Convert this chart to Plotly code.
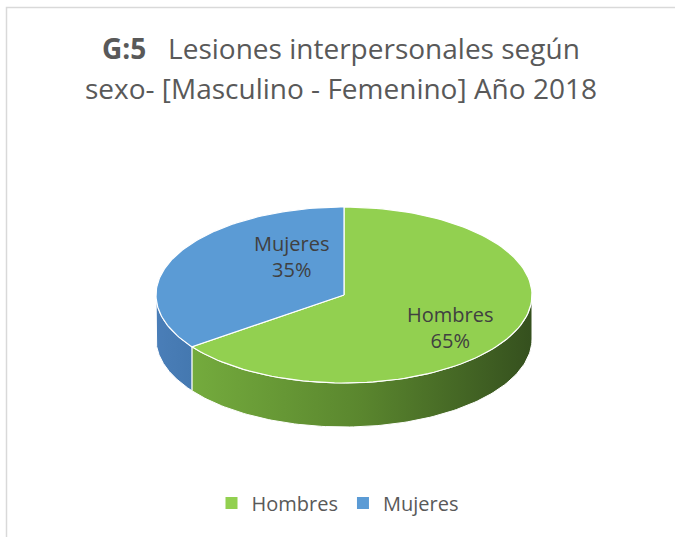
import numpy as np
import plotly.graph_objects as go

# ---- data ----
categories = ["Hombres", "Mujeres"]
values = [65, 35]
title_lines = ["<b>G:5</b>\u00a0\u00a0\u00a0Lesiones interpersonales según",
               "sexo- [Masculino - Femenino] Año 2018"]

# ---- style ----
top_colors = ["#92D050", "#5B9BD5"]
side_scales = [
    [[0, "#74AB3D"], [0.5, "#5A862E"], [1, "#35501E"]],
    [[0, "#4A7EB8"], [1, "#4478B0"]],
]
FONT = "Open Sans"
W, H = 675, 537
cx, cy, a, b, depth = 344, 295, 188, 88, 44

total = float(sum(values))
angles = np.cumsum([0] + [v / total * 360 for v in values])


def arc(t0, t1, dy=0, n=120):
    t = np.radians(np.linspace(t0, t1, n))
    return cx + a * np.sin(t), cy - b * np.cos(t) + dy


fig = go.Figure()

# side walls (front half visible: 90..270 degrees clockwise from top)
for i, cat in enumerate(categories):
    s0, s1 = max(angles[i], 90), min(angles[i + 1], 270)
    if s1 <= s0:
        continue
    xt, yt = arc(s0, s1)
    xb, yb = arc(s1, s0, depth)
    xs = np.concatenate([xt, xb, xt[:1]])
    ys = np.concatenate([yt, yb, yt[:1]])
    fig.add_trace(go.Scatter(
        x=xs, y=ys, mode="lines", fill="toself",
        line=dict(color="white", width=1),
        fillgradient=dict(type="horizontal", colorscale=side_scales[i]),
        hoverinfo="skip", showlegend=False))

# top faces
for i, cat in enumerate(categories):
    xt, yt = arc(angles[i], angles[i + 1])
    xs = np.concatenate([[cx], xt, [cx]])
    ys = np.concatenate([[cy], yt, [cy]])
    fig.add_trace(go.Scatter(
        x=xs, y=ys, mode="lines", fill="toself", fillcolor=top_colors[i],
        line=dict(color="white", width=1.2),
        name=cat, hoverinfo="skip", showlegend=False))

# legend entries
for i, cat in enumerate(categories):
    fig.add_trace(go.Scatter(
        x=[None], y=[None], mode="markers", name=cat,
        marker=dict(symbol="square", size=8, color=top_colors[i])))

# data labels
label_pos = [(450, 327), (291, 256)]
for i, cat in enumerate(categories):
    pct = round(values[i] / total * 100)
    fig.add_annotation(x=label_pos[i][0], y=label_pos[i][1], xref="x", yref="y",
                       text=f"{cat}<br>{pct}%", showarrow=False,
                       font=dict(family=FONT, size=20, color="#404040"))

# title (two lines)
for line, ypos in zip(title_lines, [48, 88]):
    fig.add_annotation(x=341, y=ypos, xref="x", yref="y", showarrow=False,
                       text=line, font=dict(family=FONT, size=28, color="#595959"))

# chart border
fig.add_shape(type="rect", xref="x", yref="y", x0=6.5, y0=7.5, x1=720, y1=580,
              line=dict(color="#D9D9D9", width=1.5), layer="below")

fig.update_layout(
    width=W, height=H, margin=dict(l=0, r=0, t=0, b=0),
    paper_bgcolor="white", plot_bgcolor="white",
    xaxis=dict(range=[0, W], visible=False, fixedrange=True),
    yaxis=dict(range=[H, 0], visible=False, fixedrange=True),
    legend=dict(orientation="h", x=0.5, xanchor="center", y=1 - 503 / H, yanchor="middle",
                font=dict(family=FONT, size=20, color="#595959"),
                itemsizing="constant", bgcolor="rgba(0,0,0,0)"),
)

fig.write_html("out.html", config={"displayModeBar": False},
               post_script="document.body.style.margin='0px';document.body.style.overflow='hidden';")
